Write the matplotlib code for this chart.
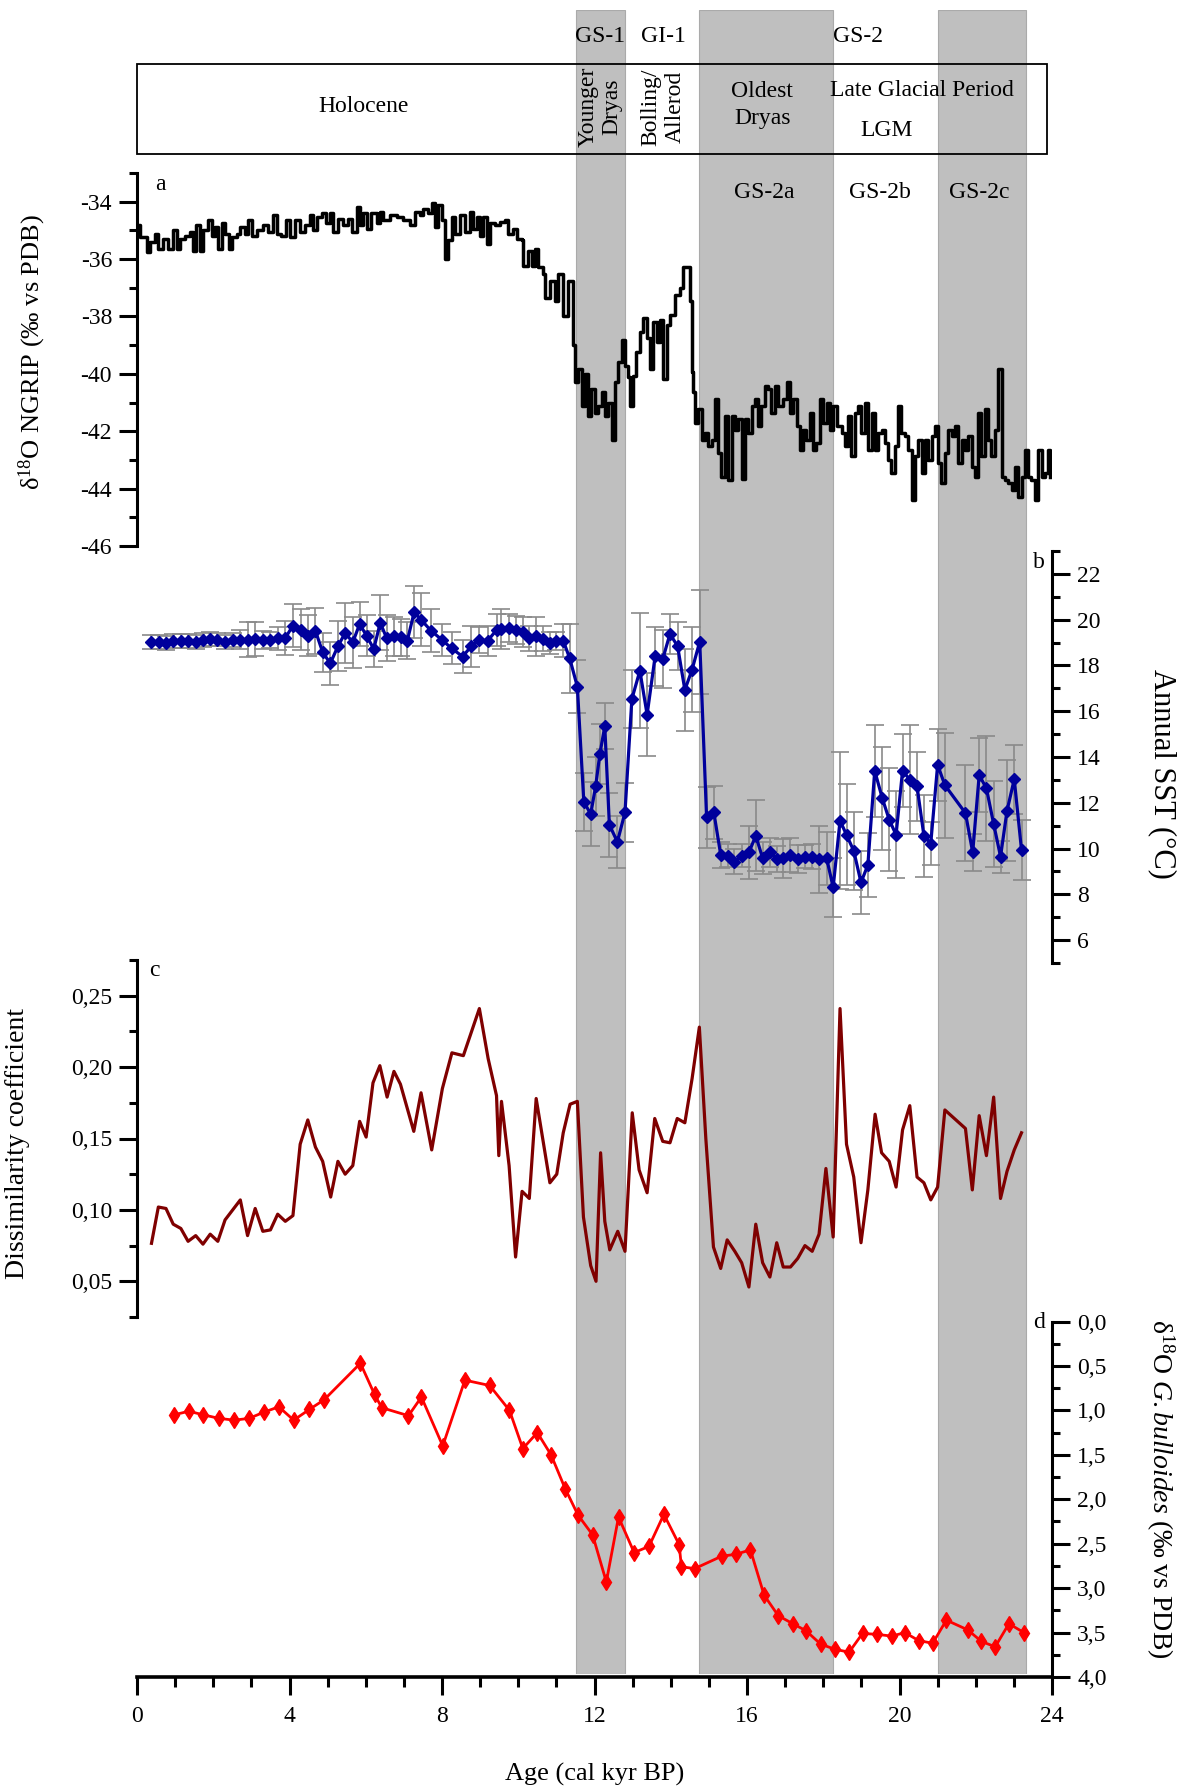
import matplotlib
matplotlib.use('Agg')
import matplotlib.pyplot as plt
import matplotlib.transforms as mtransforms
from matplotlib.patches import Rectangle
from matplotlib.ticker import MultipleLocator, FuncFormatter

plt.rcParams['font.family'] = ['Liberation Serif', 'DejaVu Serif']
plt.rcParams['mathtext.fontset'] = 'custom'
plt.rcParams['mathtext.rm'] = 'Liberation Serif'
plt.rcParams['mathtext.it'] = 'Liberation Serif:italic'
plt.rcParams['axes.unicode_minus'] = False

# ---- a) NGRIP d18O (kyr BP, permil) ----
ngrip_age = [0.01, 0.08, 0.25, 0.34, 0.47, 0.56, 0.69, 0.82, 0.95, 1.04,
             1.13, 1.26, 1.39, 1.48, 1.56, 1.65, 1.74, 1.87, 1.96, 2.05,
             2.13, 2.22, 2.31, 2.40, 2.48, 2.61, 2.70, 2.83, 2.92, 3.01,
             3.14, 3.31, 3.44, 3.58, 3.66, 3.79, 3.92, 4.01, 4.14, 4.27,
             4.41, 4.54, 4.62, 4.71, 4.84, 4.97, 5.06, 5.15, 5.28, 5.41,
             5.54, 5.63, 5.76, 5.85, 5.94, 6.02, 6.15, 6.29, 6.37, 6.46,
             6.63, 6.81, 6.98, 7.16, 7.29, 7.42, 7.51, 7.64, 7.73, 7.81,
             7.90, 7.99, 8.08, 8.16, 8.25, 8.34, 8.47, 8.60, 8.73, 8.82,
             8.91, 8.99, 9.08, 9.17, 9.26, 9.39, 9.52, 9.65, 9.74, 9.87,
             9.96, 10.09, 10.13, 10.26, 10.35, 10.44, 10.52, 10.66, 10.70, 10.83,
             10.96, 11.05, 11.18, 11.31, 11.44, 11.49, 11.57, 11.66, 11.75, 11.84,
             11.92, 12.01, 12.10, 12.19, 12.27, 12.36, 12.45, 12.54, 12.62, 12.71,
             12.80, 12.89, 12.93, 13.02, 13.10, 13.19, 13.28, 13.37, 13.45, 13.54,
             13.63, 13.72, 13.80, 13.89, 13.98, 14.11, 14.24, 14.33, 14.42, 14.50,
             14.55, 14.59, 14.63, 14.72, 14.81, 14.90, 14.98, 15.07, 15.16, 15.25,
             15.33, 15.42, 15.51, 15.60, 15.68, 15.77, 15.86, 15.95, 16.03, 16.12,
             16.21, 16.29, 16.38, 16.47, 16.56, 16.64, 16.73, 16.82, 16.95, 17.04,
             17.13, 17.21, 17.30, 17.39, 17.48, 17.56, 17.65, 17.74, 17.82, 17.91,
             18.00, 18.09, 18.17, 18.26, 18.35, 18.48, 18.57, 18.65, 18.74, 18.83,
             18.92, 19.00, 19.09, 19.18, 19.27, 19.35, 19.44, 19.53, 19.62, 19.70,
             19.79, 19.88, 19.97, 20.05, 20.14, 20.23, 20.32, 20.40, 20.49, 20.58,
             20.67, 20.75, 20.84, 20.93, 21.01, 21.10, 21.19, 21.28, 21.37, 21.45,
             21.54, 21.63, 21.71, 21.80, 21.89, 21.98, 22.06, 22.15, 22.24, 22.33,
             22.41, 22.50, 22.59, 22.68, 22.76, 22.85, 22.94, 23.02, 23.11, 23.20,
             23.29, 23.37, 23.46, 23.55, 23.64, 23.73, 23.81, 23.90, 23.94]
ngrip_d18o = [-34.82, -35.24, -35.76, -35.41, -35.12, -35.65, -35.29, -35.65, -35.00, -35.65,
              -35.29, -35.18, -35.06, -35.71, -34.82, -35.71, -35.00, -34.65, -35.18, -34.88,
              -35.65, -34.76, -35.12, -35.65, -35.24, -35.12, -34.88, -35.12, -34.65, -35.18,
              -35.00, -34.82, -35.06, -34.47, -35.12, -35.18, -34.65, -35.24, -34.65, -35.06,
              -34.82, -34.47, -35.00, -34.53, -34.41, -34.76, -34.41, -35.06, -34.59, -34.82,
              -34.59, -35.06, -34.18, -34.82, -34.41, -34.94, -34.41, -34.76, -34.35, -34.65,
              -34.47, -34.53, -34.65, -34.82, -34.35, -34.47, -34.24, -34.41, -34.06, -34.88,
              -34.12, -34.65, -36.00, -35.35, -34.53, -35.12, -34.47, -35.06, -34.35, -34.94,
              -34.53, -35.18, -34.53, -35.47, -34.76, -34.82, -34.71, -34.65, -35.12, -34.94,
              -35.29, -35.35, -36.24, -35.71, -36.24, -35.65, -36.29, -36.53, -37.35, -36.76,
              -37.47, -36.53, -38.00, -36.76, -39.00, -40.29, -39.82, -41.12, -40.00, -41.47,
              -40.53, -41.35, -41.12, -40.65, -41.47, -41.00, -42.29, -40.29, -39.59, -38.82,
              -39.71, -40.12, -41.12, -40.06, -39.24, -38.53, -38.06, -38.76, -39.82, -38.18,
              -38.88, -38.12, -40.18, -38.29, -37.94, -37.24, -37.00, -36.29, -36.29, -37.47,
              -39.94, -40.65, -41.71, -41.24, -42.29, -42.06, -42.53, -42.29, -40.88, -42.76,
              -43.59, -41.47, -43.71, -41.47, -41.94, -41.59, -43.65, -41.59, -42.06, -41.12,
              -40.88, -41.82, -41.12, -40.41, -40.53, -41.35, -40.41, -41.12, -40.88, -40.29,
              -41.35, -40.88, -41.82, -42.65, -41.94, -42.29, -41.35, -42.65, -42.41, -40.88,
              -41.71, -41.00, -41.94, -41.12, -41.82, -42.06, -42.53, -41.47, -42.88, -41.35,
              -41.12, -42.06, -41.00, -42.65, -41.35, -42.65, -42.06, -41.94, -42.41, -43.00,
              -43.47, -42.53, -41.12, -42.06, -42.18, -42.65, -44.41, -42.88, -42.29, -43.47,
              -42.29, -43.00, -42.18, -41.82, -43.12, -43.82, -42.76, -41.94, -42.18, -41.82,
              -43.12, -42.29, -42.65, -42.18, -43.24, -43.59, -41.35, -42.88, -41.24, -42.29,
              -42.88, -41.94, -39.82, -43.59, -43.71, -43.82, -44.06, -43.24, -44.29, -43.59,
              -42.65, -43.59, -43.71, -44.41, -42.65, -43.59, -43.47, -42.65, -43.59]

# ---- b) Annual SST (deg C) with error ----
sst_age = [0.37, 0.58, 0.76, 0.95, 1.15, 1.34, 1.54, 1.73, 1.92, 2.11,
           2.32, 2.51, 2.71, 2.90, 3.10, 3.30, 3.50, 3.69, 3.89, 4.09,
           4.29, 4.48, 4.68, 4.87, 5.07, 5.27, 5.46, 5.66, 5.84, 6.02,
           6.21, 6.38, 6.55, 6.74, 6.92, 7.09, 7.27, 7.45, 7.71, 7.99,
           8.25, 8.54, 8.77, 8.98, 9.20, 9.43, 9.56, 9.76, 9.94, 10.13,
           10.28, 10.47, 10.65, 10.82, 11.00, 11.18, 11.35, 11.55, 11.72, 11.90,
           12.03, 12.14, 12.27, 12.39, 12.60, 12.80, 12.98, 13.19, 13.38, 13.59,
           13.79, 13.98, 14.18, 14.37, 14.56, 14.76, 14.94, 15.13, 15.31, 15.50,
           15.67, 15.86, 16.05, 16.23, 16.41, 16.60, 16.78, 16.95, 17.14, 17.33,
           17.52, 17.71, 17.89, 18.09, 18.26, 18.44, 18.61, 18.80, 18.99, 19.17,
           19.35, 19.55, 19.73, 19.91, 20.08, 20.27, 20.46, 20.64, 20.82, 21.00,
           21.19, 21.73, 21.92, 22.09, 22.28, 22.47, 22.65, 22.82, 23.01, 23.20]
sst = [19.01, 19.04, 18.98, 19.07, 19.08, 19.07, 19.04, 19.10, 19.16, 19.13,
       19.04, 19.11, 19.13, 19.13, 19.16, 19.11, 19.13, 19.19, 19.20, 19.74,
       19.57, 19.30, 19.51, 18.58, 18.09, 18.84, 19.42, 19.01, 19.81, 19.30,
       18.72, 19.86, 19.19, 19.28, 19.23, 19.08, 20.33, 20.00, 19.52, 19.13,
       18.75, 18.39, 18.84, 19.11, 19.08, 19.55, 19.60, 19.63, 19.55, 19.45,
       19.19, 19.28, 19.16, 18.98, 19.08, 19.08, 18.31, 17.07, 12.04, 11.51,
       12.72, 14.13, 15.34, 11.04, 10.29, 11.58, 16.53, 17.77, 15.85, 18.40,
       18.28, 19.38, 18.84, 16.93, 17.82, 19.04, 11.36, 11.58, 9.73, 9.68,
       9.42, 9.68, 9.83, 10.56, 9.58, 9.83, 9.54, 9.57, 9.71, 9.54,
       9.65, 9.65, 9.54, 9.57, 8.30, 11.22, 10.60, 9.90, 8.52, 9.28,
       13.40, 12.19, 11.26, 10.60, 13.40, 13.01, 12.72, 10.56, 10.22, 13.66,
       12.77, 11.55, 9.83, 13.21, 12.63, 11.07, 9.65, 11.65, 13.03, 9.94]
sst_err = [0.3, 0.3, 0.3, 0.3, 0.3, 0.3, 0.3, 0.3, 0.3, 0.3,
           0.3, 0.3, 0.4, 0.75, 0.75, 0.4, 0.35, 0.5, 0.75, 0.95,
           0.9, 0.9, 1.0, 0.85, 0.95, 1.1, 1.3, 1.1, 0.95, 0.9,
           0.8, 1.2, 1.0, 0.85, 0.8, 0.8, 1.15, 1.15, 0.95, 0.7,
           0.7, 0.7, 0.9, 0.55, 0.65, 0.7, 0.87, 0.6, 0.6, 0.65,
           0.55, 0.85, 0.55, 0.5, 0.4, 0.73, 1.5, 1.15, 1.27, 1.4,
           1.3, 1.3, 1.0, 1.4, 1.15, 1.3, 1.25, 2.5, 1.8, 1.3,
           1.25, 0.87, 1.05, 1.8, 1.85, 2.27, 1.35, 1.17, 0.56, 0.5,
           0.55, 0.5, 1.17, 1.55, 0.7, 0.65, 0.55, 0.85, 0.75, 0.6,
           0.5, 0.55, 1.46, 1.17, 1.3, 3.0, 2.2, 1.7, 1.37, 1.4,
           2.0, 2.25, 2.25, 1.9, 1.6, 2.37, 1.5, 1.8, 0.95, 1.57,
           2.3, 2.1, 0.8, 1.6, 2.3, 1.87, 0.7, 2.2, 1.5, 1.3]

# ---- c) dissimilarity coefficient ----
dc_age = [0.38, 0.56, 0.76, 0.95, 1.15, 1.34, 1.54, 1.73, 1.92, 2.12,
          2.31, 2.51, 2.71, 2.90, 3.10, 3.30, 3.50, 3.69, 3.89, 4.09,
          4.28, 4.48, 4.68, 4.87, 5.08, 5.27, 5.46, 5.66, 5.84, 6.01,
          6.19, 6.37, 6.56, 6.74, 6.91, 7.26, 7.45, 7.73, 8.01, 8.26,
          8.56, 8.98, 9.21, 9.43, 9.49, 9.56, 9.76, 9.93, 10.10, 10.29,
          10.47, 10.83, 11.01, 11.18, 11.36, 11.55, 11.71, 11.90, 12.04, 12.16,
          12.27, 12.40, 12.61, 12.80, 12.99, 13.17, 13.38, 13.58, 13.79, 13.98,
          14.17, 14.37, 14.56, 14.75, 14.92, 15.12, 15.31, 15.48, 15.68, 15.86,
          16.05, 16.23, 16.41, 16.60, 16.78, 16.95, 17.14, 17.33, 17.52, 17.71,
          17.89, 18.07, 18.26, 18.44, 18.61, 18.80, 18.99, 19.17, 19.36, 19.53,
          19.73, 19.91, 20.08, 20.27, 20.46, 20.64, 20.82, 21.00, 21.19, 21.73,
          21.91, 22.09, 22.28, 22.47, 22.65, 22.82, 23.01, 23.20]
dc = [0.0766, 0.102, 0.101, 0.090, 0.087, 0.078, 0.082, 0.076, 0.083, 0.078,
      0.093, 0.100, 0.107, 0.082, 0.101, 0.085, 0.086, 0.097, 0.092, 0.096,
      0.146, 0.163, 0.144, 0.134, 0.109, 0.134, 0.125, 0.131, 0.162, 0.151,
      0.189, 0.201, 0.179, 0.197, 0.188, 0.155, 0.182, 0.142, 0.185, 0.210,
      0.208, 0.241, 0.206, 0.180, 0.138, 0.176, 0.131, 0.067, 0.113, 0.108,
      0.178, 0.119, 0.125, 0.154, 0.174, 0.176, 0.095, 0.061, 0.050, 0.140,
      0.092, 0.072, 0.085, 0.071, 0.168, 0.128, 0.112, 0.164, 0.148, 0.147,
      0.164, 0.161, 0.192, 0.228, 0.150, 0.074, 0.059, 0.079, 0.071, 0.063,
      0.046, 0.090, 0.063, 0.053, 0.077, 0.060, 0.060, 0.066, 0.075, 0.071,
      0.083, 0.129, 0.081, 0.241, 0.146, 0.123, 0.077, 0.114, 0.167, 0.140,
      0.134, 0.116, 0.156, 0.173, 0.123, 0.119, 0.107, 0.116, 0.170, 0.157,
      0.114, 0.166, 0.138, 0.179, 0.108, 0.127, 0.142, 0.154]

# ---- d) d18O G. bulloides ----
gb_age = [0.97, 1.36, 1.74, 2.15, 2.55, 2.94, 3.33, 3.72, 4.11, 4.52,
          4.91, 5.86, 6.23, 6.42, 7.12, 7.46, 8.02, 8.60, 9.25, 9.77,
          10.12, 10.50, 10.86, 11.23, 11.57, 11.95, 12.31, 12.63, 13.04, 13.43,
          13.82, 14.22, 14.28, 14.63, 15.34, 15.70, 16.09, 16.45, 16.82, 17.20,
          17.55, 17.93, 18.32, 18.68, 19.03, 19.41, 19.80, 20.14, 20.50, 20.87,
          21.23, 21.79, 22.15, 22.51, 22.87, 23.26]
gb_d18o = [1.05, 1.01, 1.05, 1.09, 1.11, 1.09, 1.02, 0.96, 1.11, 0.99,
           0.88, 0.47, 0.82, 0.97, 1.06, 0.85, 1.40, 0.66, 0.72, 1.00,
           1.43, 1.25, 1.50, 1.88, 2.18, 2.40, 2.93, 2.20, 2.60, 2.53,
           2.17, 2.51, 2.76, 2.78, 2.64, 2.62, 2.57, 3.08, 3.31, 3.40,
           3.48, 3.63, 3.69, 3.72, 3.51, 3.52, 3.54, 3.50, 3.59, 3.62,
           3.36, 3.47, 3.60, 3.66, 3.40, 3.50]

# shaded stadials (kyr BP)
band_start = [11.51, 14.74, 21.00]
band_end = [12.80, 18.25, 23.32]

# ---- layout in pixels of the 1181 x 1789 canvas ----
W, H = 1181, 1789
X0, X1 = 137, 1052
FS = 17


def rect(top, bottom):
    return [X0 / W, 1 - bottom / H, (X1 - X0) / W, (bottom - top) / H]


def fy(py):
    return 1 - py / H


fig = plt.figure(figsize=(W / 100, H / 100), dpi=100)

ax_bg = fig.add_axes(rect(9.6, 1674))
ax_bg.set_xlim(0, 24)
ax_bg.set_ylim(0, 1)
ax_bg.axis('off')
for s, e in zip(band_start, band_end):
    ax_bg.axvspan(s, e, facecolor='#bfbfbf', edgecolor='#aaaaaa', lw=0.8, zorder=0)

blend = mtransforms.blended_transform_factory(ax_bg.transData, fig.transFigure)
ax_bg.add_patch(Rectangle((0, fy(154)), 23.87, 90 / H, transform=blend,
                          fill=False, lw=1.3, ec='black', clip_on=False))


def note(x, y, s, **kw):
    ax_bg.text(x, fy(y), s, transform=blend, ha='center', va='center',
               fontsize=FS, **kw)


note(12.15, 36, 'GS-1')
note(13.8, 36, 'GI-1')
note(18.9, 36, 'GS-2')
note(5.95, 106, 'Holocene')
note(12.15, 107, 'Younger\nDryas', rotation=90, linespacing=1.2)
note(13.8, 107, 'Bolling/\nAllerod', rotation=90, linespacing=1.2)
note(16.4, 105, 'Oldest\nDryas', linespacing=1.35)
note(20.6, 90, 'Late Glacial Period')
note(19.65, 131, 'LGM')
note(16.45, 192, 'GS-2a')
note(19.5, 192, 'GS-2b')
note(22.08, 192, 'GS-2c')


def style(ax, side):
    ax.patch.set_alpha(0)
    for sp in ax.spines.values():
        sp.set_visible(False)
    ax.spines[side].set_visible(True)
    ax.spines[side].set_linewidth(2.2)
    ax.set_xlim(0, 24)
    ax.tick_params(axis='x', which='both', bottom=False, labelbottom=False)
    if side == 'right':
        ax.yaxis.tick_right()
        ax.yaxis.set_label_position('right')
    ax.tick_params(axis='y', which='major', length=13, width=2.2,
                   direction='out', labelsize=FS, pad=5)
    ax.tick_params(axis='y', which='minor', length=6, width=2.2, direction='out')


comma = lambda fmt: FuncFormatter(lambda v, p: format(v, fmt).replace('.', ','))

# a
ax_a = fig.add_axes(rect(173, 546))
style(ax_a, 'left')
ax_a.plot(ngrip_age, ngrip_d18o, color='black', lw=2.5, drawstyle='steps-post')
ax_a.set_ylim(-46, -33)
ax_a.set_yticks(range(-46, -33, 2))
ax_a.yaxis.set_minor_locator(MultipleLocator(1))
ax_a.set_ylabel('δ$^{18}$O NGRIP (‰ vs PDB)', fontsize=19)
ax_a.yaxis.set_label_coords(-0.097, 0.52)

# b
ax_b = fig.add_axes(rect(551, 963))
style(ax_b, 'right')
ax_b.errorbar(sst_age, sst, yerr=sst_err, fmt='none', ecolor='#8a8a8a',
              elinewidth=1.2, capsize=6.5, capthick=1.2, zorder=2)
ax_b.plot(sst_age, sst, color='#00009c', lw=2.3, marker='D', ms=6.5, zorder=3)
ax_b.set_ylim(5, 23)
ax_b.set_yticks(range(6, 23, 2))
ax_b.yaxis.set_minor_locator(MultipleLocator(1))
ax_b.set_ylabel('Annual SST (°C)', fontsize=22, rotation=270, va='center')
ax_b.yaxis.set_label_coords(1.12, 0.46)

# c
ax_c = fig.add_axes(rect(960, 1317))
style(ax_c, 'left')
ax_c.plot(dc_age, dc, color='#7f0000', lw=2.3)
ax_c.set_ylim(0.025, 0.275)
ax_c.set_yticks([0.05, 0.10, 0.15, 0.20, 0.25])
ax_c.yaxis.set_minor_locator(MultipleLocator(0.025))
ax_c.yaxis.set_major_formatter(comma('.2f'))
ax_c.set_ylabel('Dissimilarity coefficient', fontsize=20)
ax_c.yaxis.set_label_coords(-0.117, 0.485)

# d
ax_d = fig.add_axes(rect(1321.5, 1677))
style(ax_d, 'right')
ax_d.plot(gb_age, gb_d18o, color='#ff0000', lw=2.0, marker='d', ms=8, zorder=3)
ax_d.set_ylim(4.0, 0.0)
ax_d.set_yticks([0.0, 0.5, 1.0, 1.5, 2.0, 2.5, 3.0, 3.5, 4.0])
ax_d.yaxis.set_minor_locator(MultipleLocator(0.25))
ax_d.yaxis.set_major_formatter(comma('.1f'))
ax_d.set_ylabel('δ$^{18}$O $\\mathit{G.bulloides}$ (‰ vs PDB)',
                fontsize=20, rotation=270, va='center')
ax_d.yaxis.set_label_coords(1.118, 0.53)
ax_d.spines['bottom'].set_visible(True)
ax_d.spines['bottom'].set_linewidth(2.6)
ax_d.tick_params(axis='x', which='both', bottom=True, labelbottom=True)
ax_d.set_xticks(range(0, 25, 4))
ax_d.xaxis.set_minor_locator(MultipleLocator(1))
ax_d.tick_params(axis='x', which='major', length=13, width=2.2,
                 labelsize=FS, pad=8)
ax_d.tick_params(axis='x', which='minor', length=7, width=2.2)
ax_d.set_xlabel('Age (cal kyr BP)', fontsize=19, labelpad=26)

# panel letters
for x, y, s in [(0.6, 185, 'a'), (23.65, 563, 'b'), (0.45, 970, 'c'), (23.65, 1322, 'd')]:
    note(x, y, s)

fig.savefig('out.png', dpi=100)
